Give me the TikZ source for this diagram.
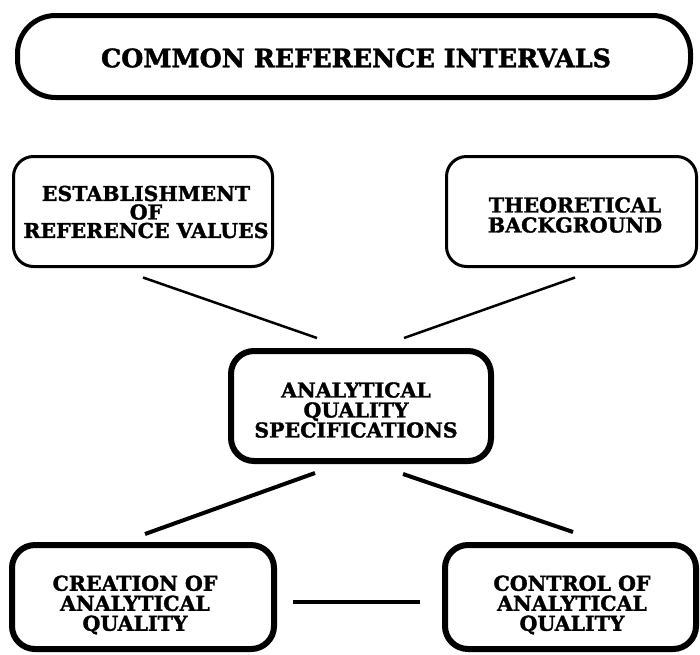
\documentclass[tikz,border=0pt]{standalone}
\usepackage{fontspec}
\setmainfont{DejaVu Serif}[BoldFeatures={FakeBold=1.6}]
\usetikzlibrary{calc}
\begin{document}
\begin{tikzpicture}[x=1pt, y=-1pt,
  box/.style={draw=black, fill=white, rounded corners=20pt, inner sep=0pt},
  heavybox/.style={box, line width=6pt, rounded corners=23pt},
  lightbox/.style={box, line width=3pt},
  lbl/.style={align=center, inner sep=0pt, font=\bfseries\fontsize{20.5}{20}\selectfont},
  link/.style={line width=2.5pt},
  heavylink/.style={line width=4pt}]
\useasboundingbox (0,0) rectangle (700,654);

% title
\node[box, line width=5pt, rounded corners=38pt, minimum width=673pt, minimum height=82pt] (top) at (354,56.5) {};
\node[lbl, font=\bfseries\fontsize{25.4}{26}\selectfont] (topT) at (356,58) {COMMON REFERENCE INTERVALS};

% upper pair
\node[lightbox, minimum width=259pt, minimum height=110pt] (est) at (143,211.5) {};
\node[lbl, font=\bfseries\fontsize{20.5}{18.5}\selectfont] (estT) at (146,212) {ESTABLISHMENT\\OF\\REFERENCE VALUES};
\node[lightbox, minimum width=250pt, minimum height=110pt] (theo) at (571.5,211.5) {};
\node[lbl] (theoT) at (575,215) {THEORETICAL\\BACKGROUND};

% central box
\node[heavybox, minimum width=260pt, minimum height=110pt] (ctr) at (361,406) {};
\node[lbl] (ctrT) at (356,410) {ANALYTICAL\\QUALITY\\SPECIFICATIONS};

% lower pair
\node[heavybox, minimum width=262pt, minimum height=104pt] (cre) at (143,597) {};
\node[lbl] (creT) at (135,605) {CREATION OF\\ANALYTICAL\\QUALITY};
\node[heavybox, minimum width=251pt, minimum height=104pt] (con) at (570.5,597) {};
\node[lbl] (conT) at (572,605) {CONTROL OF\\ANALYTICAL\\QUALITY};

% connectors
\draw[link] ($(est.south)+(0,9.5)$) -- ($(ctr.north)+(-44,-10)$);
\draw[link] ($(theo.south)+(3.5,9.5)$) -- ($(ctr.north)+(43,-10)$);
\draw[heavylink] ($(ctr.south)+(-46,9)$) -- ($(cre.north)+(2,-8)$);
\draw[heavylink] ($(ctr.south)+(42,10)$) -- ($(con.north)+(2.5,-10)$);
\draw[heavylink] ($(cre.east)+(16,5)$) -- ($(con.west)+(-22,5)$);
\end{tikzpicture}
\end{document}
